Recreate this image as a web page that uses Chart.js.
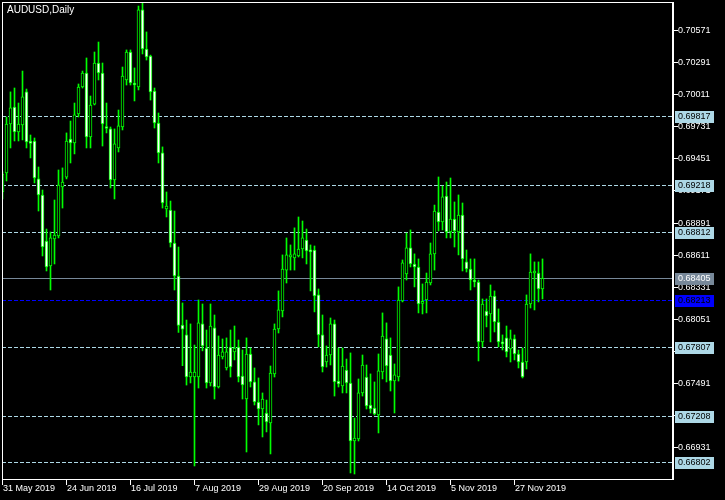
<!DOCTYPE html>
<html>
<head>
<meta charset="utf-8">
<script src="https://cdn.jsdelivr.net/npm/chart.js@4.4.0/dist/chart.umd.min.js"></script>
<style>
  html, body { margin: 0; padding: 0; background: #000; }
  canvas { display: block; }
</style>
</head>
<body>
<canvas id="chart" width="725" height="500"></canvas>
<script>
const symbolTitle = 'AUDUSD,Daily';

// дневные свечи (O/H/L/C), с 31 May 2019
const opens = [
  0.69158, 0.69324, 0.69751, 0.69899, 0.69681, 0.69742, 0.70031, 0.69603, 0.69603, 0.69272,
  0.69132, 0.68730, 0.68512, 0.68748, 0.68774, 0.69202, 0.69288, 0.69620, 0.69585, 0.69838,
  0.70074, 0.70196, 0.69638, 0.69925, 0.70283, 0.70196, 0.69725, 0.69708, 0.69263, 0.69542,
  0.69725, 0.70135, 0.70379, 0.70109, 0.70074, 0.70746, 0.70405, 0.70344, 0.70039, 0.69760,
  0.69499, 0.69010, 0.69001, 0.68713, 0.68425, 0.67996, 0.67911, 0.67544, 0.67544, 0.67544,
  0.68007, 0.67797, 0.67492, 0.67972, 0.67457, 0.67719, 0.67623, 0.67806, 0.67763, 0.67806,
  0.67553, 0.67352, 0.67745, 0.67501, 0.67326, 0.67265, 0.67230, 0.67143, 0.67571, 0.67963,
  0.68120, 0.68477, 0.68591, 0.68583, 0.68600, 0.68661, 0.68739, 0.68652, 0.68652, 0.68260,
  0.67911, 0.67675, 0.67736, 0.68007, 0.67509, 0.67466, 0.67605, 0.67492, 0.66986, 0.67004,
  0.67405, 0.67544, 0.67300, 0.67274, 0.67213, 0.67588, 0.67876, 0.67736, 0.67509, 0.67544,
  0.68207, 0.68443, 0.68670, 0.68530, 0.68504, 0.68186, 0.68216, 0.68364, 0.68618, 0.68983,
  0.68896, 0.69123, 0.68809, 0.68922, 0.68809, 0.68957, 0.68548, 0.68486, 0.68390, 0.68373,
  0.67850, 0.68120, 0.68094, 0.68251, 0.68024, 0.67841, 0.67885, 0.67789, 0.67876, 0.67745,
  0.67675, 0.67675, 0.68181, 0.68451, 0.68451, 0.68312
];
const highs = [
  0.69333, 0.69812, 0.70031, 0.70065, 0.69934, 0.70213, 0.70056, 0.69655, 0.69629, 0.69376,
  0.69175, 0.68835, 0.68809, 0.69088, 0.69350, 0.69368, 0.69673, 0.69777, 0.69934, 0.70100,
  0.70213, 0.70327, 0.69995, 0.70379, 0.70466, 0.70283, 0.69934, 0.69725, 0.69708, 0.69873,
  0.70248, 0.70397, 0.70397, 0.70240, 0.70780, 0.70807, 0.70554, 0.70352, 0.70065, 0.69847,
  0.69551, 0.69158, 0.69079, 0.68992, 0.68678, 0.68190, 0.68041, 0.68007, 0.67823, 0.68216,
  0.68181, 0.67954, 0.68181, 0.68085, 0.67902, 0.67876, 0.67885, 0.67954, 0.67989, 0.67867,
  0.67780, 0.67885, 0.67797, 0.67623, 0.67536, 0.67405, 0.67343, 0.67640, 0.68007, 0.68295,
  0.68609, 0.68757, 0.68696, 0.68845, 0.68940, 0.68905, 0.68835, 0.68696, 0.68687, 0.68312,
  0.68085, 0.67815, 0.68059, 0.68041, 0.67797, 0.67797, 0.67701, 0.67754, 0.67186, 0.67527,
  0.67736, 0.67649, 0.67571, 0.67501, 0.67745, 0.68103, 0.68016, 0.67885, 0.67658, 0.68330,
  0.68565, 0.68800, 0.68827, 0.68618, 0.68574, 0.68356, 0.68451, 0.68713, 0.69044, 0.69289,
  0.69210, 0.69245, 0.69280, 0.69071, 0.69132, 0.69062, 0.68652, 0.68574, 0.68574, 0.68390,
  0.68225, 0.68225, 0.68347, 0.68295, 0.68138, 0.67911, 0.67989, 0.67954, 0.67911, 0.67780,
  0.67797, 0.68260, 0.68618, 0.68548, 0.68548, 0.68574
];
const lows = [
  0.69097, 0.69254, 0.69542, 0.69603, 0.69603, 0.69612, 0.69542, 0.69455, 0.69237, 0.68992,
  0.68600, 0.68469, 0.68303, 0.68530, 0.68757, 0.69018, 0.69272, 0.69411, 0.69490, 0.69812,
  0.70065, 0.69542, 0.69542, 0.69917, 0.70135, 0.69559, 0.69673, 0.69193, 0.69097, 0.69507,
  0.69699, 0.70091, 0.70091, 0.69952, 0.70048, 0.70362, 0.70309, 0.69960, 0.69716, 0.69411,
  0.69018, 0.68940, 0.68678, 0.68303, 0.67933, 0.67643, 0.67474, 0.67492, 0.66768, 0.67448,
  0.67772, 0.67448, 0.67466, 0.67352, 0.67448, 0.67701, 0.67605, 0.67544, 0.67693, 0.67501,
  0.67352, 0.66890, 0.67457, 0.67300, 0.67126, 0.67021, 0.67065, 0.66873, 0.67544, 0.67928,
  0.68068, 0.68364, 0.68477, 0.68477, 0.68591, 0.68583, 0.68530, 0.68295, 0.68112, 0.67806,
  0.67588, 0.67631, 0.67649, 0.67378, 0.67457, 0.67405, 0.67405, 0.66707, 0.66698, 0.66986,
  0.67378, 0.67265, 0.67230, 0.67213, 0.67056, 0.67527, 0.67501, 0.67422, 0.67230, 0.67509,
  0.68199, 0.68390, 0.68504, 0.68330, 0.68103, 0.68094, 0.68103, 0.68347, 0.68477, 0.68818,
  0.68827, 0.68757, 0.68757, 0.68678, 0.68609, 0.68469, 0.68460, 0.68303, 0.68330, 0.67684,
  0.67806, 0.67981, 0.67850, 0.67937, 0.67806, 0.67780, 0.67719, 0.67675, 0.67693, 0.67623,
  0.67536, 0.67614, 0.68146, 0.68129, 0.68199, 0.68225
];
const closes = [
  0.69315, 0.69751, 0.69891, 0.69681, 0.69751, 0.69987, 0.69594, 0.69581, 0.69280, 0.69132,
  0.68678, 0.68504, 0.68757, 0.68783, 0.69219, 0.69245, 0.69603, 0.69585, 0.69830, 0.70074,
  0.70196, 0.69638, 0.69917, 0.70283, 0.70196, 0.69751, 0.69712, 0.69263, 0.69577, 0.69734,
  0.70170, 0.70379, 0.70109, 0.70091, 0.70746, 0.70405, 0.70336, 0.70031, 0.69760, 0.69499,
  0.69062, 0.69036, 0.68713, 0.68425, 0.67994, 0.67961, 0.67544, 0.67588, 0.67588, 0.68016,
  0.67815, 0.67492, 0.67989, 0.67457, 0.67736, 0.67763, 0.67763, 0.67631, 0.67797, 0.67544,
  0.67474, 0.67745, 0.67501, 0.67326, 0.67265, 0.67352, 0.67152, 0.67579, 0.67963, 0.68129,
  0.68486, 0.68609, 0.68609, 0.68618, 0.68661, 0.68757, 0.68644, 0.68635, 0.68251, 0.67911,
  0.67631, 0.67736, 0.68007, 0.67501, 0.67483, 0.67640, 0.67492, 0.66986, 0.67012, 0.67405,
  0.67649, 0.67291, 0.67265, 0.67221, 0.67597, 0.67902, 0.67640, 0.67509, 0.67562, 0.68216,
  0.68539, 0.68670, 0.68530, 0.68504, 0.68181, 0.68199, 0.68373, 0.68618, 0.68992, 0.68896,
  0.69115, 0.68809, 0.68922, 0.68818, 0.68957, 0.68574, 0.68486, 0.68390, 0.68373, 0.67850,
  0.68181, 0.68077, 0.68251, 0.68024, 0.67850, 0.67833, 0.67763, 0.67876, 0.67745, 0.67675,
  0.67544, 0.68181, 0.68460, 0.68469, 0.68312, 0.68405
];

// шкала цен справа
const priceTicks = [0.70571, 0.70291, 0.70011, 0.69731, 0.69451, 0.69171, 0.68891,
                    0.68611, 0.68331, 0.68051, 0.67771, 0.67491, 0.67211, 0.66931];
// подписи дат снизу и номер бара под каждой
const dateLabels = ['31 May 2019', '24 Jun 2019', '16 Jul 2019', '7 Aug 2019', '29 Aug 2019',
                    '20 Sep 2019', '14 Oct 2019', '5 Nov 2019', '27 Nov 2019'];
const dateLabelBars = [0, 16, 32, 48, 64, 80, 96, 112, 128];

// горизонтальные уровни
const dashedLevels = [0.69817, 0.69218, 0.68812, 0.67807, 0.67208, 0.66802];
const bidLevel = 0.68405;
const blueLevel = 0.68213;

const LIME = '#00ff00';
const LEVEL_BLUE = '#add8e6';
const BID_GREY = '#778899';
const FONT = "'Liberation Sans', Arial, sans-serif";

const barIndex = opens.map((_, i) => i);
const bodies = barIndex.map(i => ({ x: i, y: [opens[i], closes[i]] }));
const wicks = barIndex.map(i => ({ x: i, y: [lows[i], highs[i]] }));

const levelsPlugin = {
    id: 'levels',
    beforeDatasetsDraw(chart) {
        const { ctx, chartArea: a } = chart;
        const ys = chart.scales.y;
        const py = v => Math.round(ys.getPixelForValue(v)) + 0.5;
        ctx.save();
        ctx.lineWidth = 1;
        ctx.setLineDash([4, 2]);
        ctx.strokeStyle = LEVEL_BLUE;
        for (const lv of dashedLevels) {
            ctx.beginPath(); ctx.moveTo(a.left, py(lv)); ctx.lineTo(a.right, py(lv)); ctx.stroke();
        }
        ctx.strokeStyle = '#0000ff';
        ctx.beginPath(); ctx.moveTo(a.left, py(blueLevel)); ctx.lineTo(a.right, py(blueLevel)); ctx.stroke();
        ctx.setLineDash([]);
        ctx.strokeStyle = BID_GREY;
        ctx.beginPath(); ctx.moveTo(a.left, py(bidLevel)); ctx.lineTo(a.right, py(bidLevel)); ctx.stroke();
        ctx.restore();
    }
};

const axesPlugin = {
    id: 'mtAxes',
    afterDraw(chart) {
        const { ctx, chartArea: a } = chart;
        const ys = chart.scales.y;
        const xs = chart.scales.x;
        const py = v => Math.round(ys.getPixelForValue(v)) + 0.5;
        ctx.save();

        // рамка
        ctx.strokeStyle = '#ffffff';
        ctx.lineWidth = 1;
        ctx.strokeRect(a.left + 0.5, a.top + 0.5, a.right - a.left, a.bottom - a.top);
        ctx.beginPath(); ctx.moveTo(a.right + 1.5, a.top); ctx.lineTo(a.right + 1.5, a.bottom + 1); ctx.stroke();

        ctx.font = '9px ' + FONT;
        ctx.textBaseline = 'middle';
        ctx.textAlign = 'left';
        ctx.fillStyle = '#ffffff';

        // цены справа
        for (const t of priceTicks) {
            const y = py(t);
            ctx.beginPath(); ctx.moveTo(a.right + 2, y); ctx.lineTo(a.right + 6, y); ctx.stroke();
            ctx.fillText(t.toFixed(5), a.right + 6, y + 0.5);
        }

        // даты снизу
        dateLabels.forEach((lbl, i) => {
            const x = Math.floor(xs.getPixelForValue(dateLabelBars[i])) + 0.5;
            ctx.beginPath(); ctx.moveTo(x, a.bottom + 1); ctx.lineTo(x, a.bottom + 6); ctx.stroke();
            ctx.fillText(lbl, x + 0.5, a.bottom + 10);
        });

        // плашки уровней
        const box = (v, bg, fg) => {
            const y = Math.round(ys.getPixelForValue(v));
            ctx.fillStyle = bg;
            ctx.fillRect(a.right + 3, y - 5, 39, 12);
            ctx.fillStyle = fg;
            ctx.fillText(v.toFixed(5), a.right + 6, y + 1);
        };
        for (const lv of dashedLevels) box(lv, LEVEL_BLUE, '#000000');
        box(bidLevel, BID_GREY, '#ffffff');
        box(blueLevel, '#0000ff', '#000000');

        // заголовок
        ctx.font = '10px ' + FONT;
        ctx.fillStyle = '#ffffff';
        ctx.fillText(symbolTitle, a.left + 5, a.top + 8);
        ctx.restore();
    }
};

new Chart(document.getElementById('chart'), {
    type: 'bar',
    data: {
        datasets: [
            {
                label: 'body',
                data: bodies,
                order: 0,
                grouped: false,
                clip: 0,
                barThickness: 3,
                minBarLength: 2,
                borderWidth: 1,
                borderSkipped: false,
                borderColor: LIME,
                backgroundColor: c => {
                    const i = c.dataIndex;
                    return closes[i] >= opens[i] ? '#000000' : '#ffffff';
                }
            },
            {
                label: 'wick',
                data: wicks,
                order: 1,
                grouped: false,
                clip: 0,
                barThickness: 1,
                borderWidth: 0,
                backgroundColor: LIME
            }
        ]
    },
    options: {
        responsive: false,
        animation: false,
        devicePixelRatio: 1,
        layout: { padding: { left: 2, top: 2, right: 53, bottom: 21 } },
        plugins: { legend: { display: false }, tooltip: { enabled: false } },
        scales: {
            x: { type: 'linear', display: false, offset: false, min: -0.125, max: 167.375 },
            y: { type: 'linear', display: false, min: 0.666544, max: 0.708152 }
        }
    },
    plugins: [levelsPlugin, axesPlugin]
});
</script>
</body>
</html>
